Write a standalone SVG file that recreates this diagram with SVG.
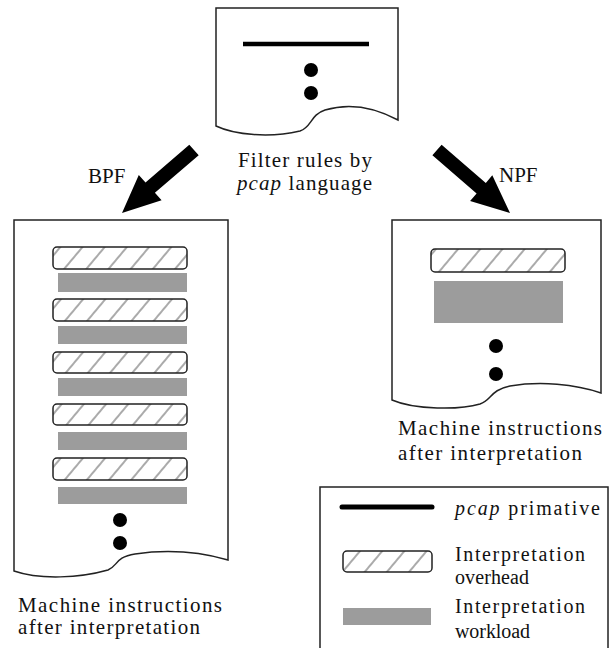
<svg xmlns="http://www.w3.org/2000/svg" width="610" height="648" viewBox="0 0 610 648" font-family="'Liberation Serif', 'DejaVu Serif', 'Times New Roman', serif">
<defs>
<pattern id="hatch" patternUnits="userSpaceOnUse" width="17" height="10" patternTransform="rotate(40)">
<line x1="1" y1="0" x2="1" y2="10" stroke="#555" stroke-width="1"/>
</pattern>
</defs>
<style>
.doc{fill:#fff;stroke:#222;stroke-width:1.5}
.hb{fill:url(#hatch);stroke:#222;stroke-width:1.5}
.gb{fill:#9c9c9c}
.dot{fill:#000}
.t{font-size:21px;fill:#111}
.lt{font-size:20px;fill:#111}
.arr{fill:#000}
</style>
<rect width="610" height="648" fill="#fff"/>

<g id="source">
<path class="doc" d="M216,126 L216,8 L398,8 L398,120 C370,105 345,104 325,110 C310,115 312,127 300,131 C270,138 235,135 216,126 Z"/>
<line x1="243" y1="44" x2="369" y2="44" stroke="#000" stroke-width="4.5"/>
<circle class="dot" cx="311" cy="70" r="7"/>
<circle class="dot" cx="311" cy="93" r="7"/>
<text class="t" x="238" y="167" font-size="22" textLength="134" lengthAdjust="spacing">Filter rules by</text>
<text class="t" x="237" y="190" font-size="22" textLength="135" lengthAdjust="spacing"><tspan font-style="italic">pcap</tspan> language</text>
</g>

<g id="bpf">
<path class="doc" d="M14,571 L14,220 L228,220 L228,560 C200,552 170,549 135,554 C115,557 118,566 108,570 C80,578 40,580 14,571 Z"/>
<rect class="hb" x="53" y="247" width="134" height="22" rx="4"/>
<rect class="gb" x="58" y="273" width="129" height="19"/>
<rect class="hb" x="53" y="299" width="134" height="22" rx="4"/>
<rect class="gb" x="58" y="326" width="129" height="18"/>
<rect class="hb" x="53" y="352" width="134" height="21" rx="4"/>
<rect class="gb" x="58" y="378" width="129" height="18"/>
<rect class="hb" x="53" y="404" width="134" height="21" rx="4"/>
<rect class="gb" x="58" y="432" width="129" height="18"/>
<rect class="hb" x="53" y="458" width="134" height="22" rx="4"/>
<rect class="gb" x="58" y="487" width="129" height="17"/>
<circle class="dot" cx="120" cy="520" r="7"/>
<circle class="dot" cx="120" cy="543" r="7"/>
<text class="t" x="18" y="612" textLength="204" lengthAdjust="spacing">Machine instructions</text>
<text class="t" x="18" y="634" textLength="182" lengthAdjust="spacing">after interpretation</text>
</g>

<g id="npf">
<path class="doc" d="M392,400 L392,220 L601,220 L601,393 C575,384 540,381 510,386 C490,390 492,400 480,404 C460,410 415,410 392,400 Z"/>
<rect class="hb" x="431" y="249" width="134" height="23" rx="4"/>
<rect class="gb" x="434" y="281" width="129" height="42"/>
<circle class="dot" cx="496" cy="346" r="7"/>
<circle class="dot" cx="496" cy="374" r="7"/>
<text class="t" x="398" y="435" textLength="204" lengthAdjust="spacing">Machine instructions</text>
<text class="t" x="398" y="460" textLength="184" lengthAdjust="spacing">after interpretation</text>
</g>

<g id="connectors">
<polygon class="arr" points="189.3,144.8 198.7,155.2 154.9,192.8 161.6,200.2 122,213 138.8,175 145.5,182.4"/>
<text class="t" x="88" y="183" font-size="22">BPF</text>
<polygon class="arr" points="441.6,144.7 485.8,182.9 492.3,175.3 510,213 470.1,201.1 476.6,193.5 432.4,155.3"/>
<text class="t" x="499" y="182" font-size="22">NPF</text>
</g>

<g id="legend">
<rect x="320" y="487" width="288" height="170" fill="#fff" stroke="#222" stroke-width="1.5"/>
<line x1="342" y1="507" x2="432" y2="507" stroke="#000" stroke-width="5" stroke-linecap="round"/>
<text class="lt" x="455" y="515" font-size="21" textLength="145" lengthAdjust="spacing"><tspan font-style="italic">pcap</tspan> primative</text>
<rect class="hb" x="343" y="551" width="89" height="21" rx="4"/>
<text class="lt" x="455" y="561" textLength="130" lengthAdjust="spacing">Interpretation</text>
<text class="lt" x="455" y="584" textLength="74" lengthAdjust="spacing">overhead</text>
<rect class="gb" x="343" y="608" width="88" height="17"/>
<text class="lt" x="455" y="613" textLength="130" lengthAdjust="spacing">Interpretation</text>
<text class="lt" x="455" y="638" textLength="75" lengthAdjust="spacing">workload</text>
</g>
</svg>
